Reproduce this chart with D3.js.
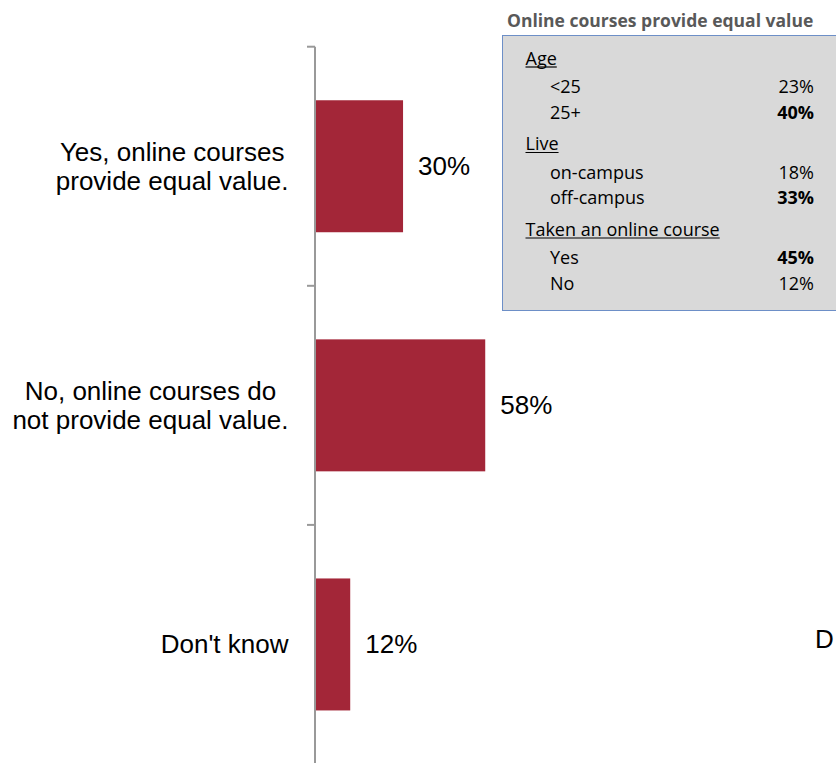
<!DOCTYPE html>
<html>
<head>
<meta charset="utf-8">
<script src="https://cdn.jsdelivr.net/npm/d3@7"></script>
<style>
  html, body { margin: 0; padding: 0; background: #fff; }
  svg { display: block; }
</style>
</head>
<body>
<svg id="chart" width="836" height="763"></svg>
<script>
// Survey answers: does an online course provide the same value?
const categories = ["Yes", "No", "Don't know"];
const categoryLines = [
  ["Yes, online courses", "provide equal value."],
  ["No, online courses do", "not provide equal value."],
  ["Don't know"]
];
const values = [30, 58, 12];

// Breakdown of "Yes" answers by respondent group
const insetTitle = "Online courses provide equal value";
const groups = ["Age", "Live", "Taken an online course"];
const groupRows = [
  ["<25", "25+"],
  ["on-campus", "off-campus"],
  ["Yes", "No"]
];
const groupValues = [
  [23, 40],
  [18, 33],
  [45, 12]
];
const groupHighlight = [
  [false, true],
  [false, true],
  [true, false]
];

const svg = d3.select("#chart");
const W = 836, H = 763;
const barColor = "#a32638";
const axisColor = "#999999";
const labelFont = "'Liberation Sans', Arial, sans-serif";
const boxFont = "'Open Sans', 'DejaVu Sans', sans-serif";

// Slots for each category along the vertical axis (ticks at slot boundaries)
const axisX = 315;
const y = d3.scaleBand().domain(categories).range([46.7, 764]).paddingInner(0).paddingOuter(0);
const barH = y.step() * 0.552;
const barY = d => y(d) + (y.step() - barH) / 2;

const x = d3.scaleLinear().domain([0, 100]).range([axisX, axisX + 293.5]);

// Bars
svg.append("g").selectAll("rect")
  .data(categories)
  .join("rect")
  .attr("x", x(0))
  .attr("y", d => barY(d))
  .attr("width", (d, i) => x(values[i]) - x(0))
  .attr("height", barH)
  .attr("fill", barColor);

// Vertical axis with tick marks at the slot boundaries
const axis = svg.append("g");
axis.append("line")
  .attr("x1", axisX).attr("x2", axisX)
  .attr("y1", y.range()[0]).attr("y2", H)
  .attr("stroke", axisColor).attr("stroke-width", 2);
const boundaries = categories.map(c => y(c)).concat([y.range()[1]]);
axis.selectAll("line.tick")
  .data(boundaries)
  .join("line")
  .attr("class", "tick")
  .attr("x1", axisX - 8).attr("x2", axisX)
  .attr("y1", d => d).attr("y2", d => d)
  .attr("stroke", axisColor).attr("stroke-width", 2);

// Category labels: each block sits against the axis, lines centred within it
const labelRight = 288.5;
const catG = svg.append("g")
  .attr("font-family", labelFont)
  .attr("font-size", 26)
  .attr("fill", "#000");
categories.forEach((c, i) => {
  const lines = categoryLines[i];
  const mid = barY(c) + barH / 2;
  const lineH = 29;
  const first = mid + 9 - (lines.length - 1) * lineH / 2;
  const t = catG.append("text")
    .attr("text-anchor", "middle");
  const spans = lines.map((ln, j) =>
    t.append("tspan")
      .attr("y", first + j * lineH)
      .text(ln));
  const maxW = d3.max(spans, s => s.node().getComputedTextLength());
  spans.forEach(s => s.attr("x", labelRight - maxW / 2));
});

// Value labels beside each bar
svg.append("g")
  .attr("font-family", labelFont)
  .attr("font-size", 26)
  .attr("fill", "#000")
  .selectAll("text")
  .data(categories)
  .join("text")
  .attr("x", (d, i) => x(values[i]) + 15)
  .attr("y", d => barY(d) + barH / 2 + 9)
  .text((d, i) => values[i] + "%");

// Start of a neighbouring label at the right edge
svg.append("text")
  .attr("font-family", labelFont)
  .attr("font-size", 26)
  .attr("x", 815)
  .attr("y", 648)
  .text("D");

// Inset box with group breakdown
const box = svg.append("g");
box.append("rect")
  .attr("x", 502.5).attr("y", 35.5)
  .attr("width", 400).attr("height", 275)
  .attr("fill", "#d9d9d9")
  .attr("stroke", "#6d8fc7")
  .attr("stroke-width", 1);

box.append("text")
  .attr("x", 507)
  .attr("y", 27)
  .attr("font-family", boxFont)
  .attr("font-size", 17.5)
  .attr("font-weight", "bold")
  .attr("fill", "#595959")
  .text(insetTitle);

const boxText = box.append("g")
  .attr("font-family", boxFont)
  .attr("font-size", 18)
  .attr("fill", "#000");

let cy = 64.5;
groups.forEach((g, gi) => {
  const head = boxText.append("text")
    .attr("x", 525.5)
    .attr("y", cy)
    .text(g);
  const w = head.node().getComputedTextLength();
  boxText.append("line")
    .attr("x1", 525.5).attr("x2", 525.5 + w)
    .attr("y1", cy + 2.5).attr("y2", cy + 2.5)
    .attr("stroke", "#000").attr("stroke-width", 1.2);
  cy += 28.5;
  groupRows[gi].forEach((r, ri) => {
    boxText.append("text")
      .attr("x", 550)
      .attr("y", cy)
      .text(r);
    boxText.append("text")
      .attr("x", 814)
      .attr("y", cy)
      .attr("text-anchor", "end")
      .attr("font-weight", groupHighlight[gi][ri] ? "bold" : "normal")
      .text(groupValues[gi][ri] + "%");
    if (ri < groupRows[gi].length - 1) cy += 25.5;
  });
  cy += 31.5;
});
</script>
</body>
</html>
